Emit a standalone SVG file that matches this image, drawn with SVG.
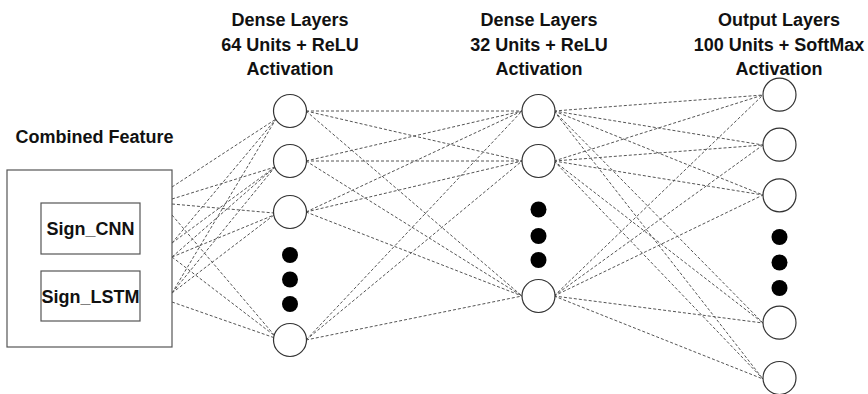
<svg xmlns="http://www.w3.org/2000/svg" width="868" height="394" viewBox="0 0 868 394">
<style>
.t{font-family:"Liberation Sans",Arial,sans-serif;font-weight:bold;font-size:18px;fill:#111;text-anchor:middle}
.n{fill:#fff;stroke:#333;stroke-width:1.2}
.d{fill:#000}
.box{fill:#fff;stroke:#555;stroke-width:1.2}
.c line{stroke:#555;stroke-width:1;stroke-dasharray:3 2;fill:none}
</style>
<rect width="868" height="394" fill="#fff"/>
<g id="connectors" class="c">
<line x1="172" y1="187" x2="276" y2="119"/>
<line x1="172" y1="199" x2="275" y2="167"/>
<line x1="172" y1="204" x2="274" y2="213"/>
<line x1="172" y1="215" x2="275" y2="336"/>
<line x1="172" y1="243" x2="276" y2="119"/>
<line x1="172" y1="243" x2="275" y2="167"/>
<line x1="172" y1="257" x2="275" y2="167"/>
<line x1="172" y1="257" x2="274" y2="215"/>
<line x1="172" y1="257" x2="275" y2="336"/>
<line x1="172" y1="293" x2="276" y2="119"/>
<line x1="172" y1="293" x2="275" y2="167"/>
<line x1="172" y1="293" x2="274" y2="215"/>
<line x1="172" y1="302" x2="275" y2="338"/>
<line x1="306" y1="111" x2="522" y2="111"/>
<line x1="306" y1="111" x2="522" y2="161"/>
<line x1="306" y1="111" x2="522" y2="296"/>
<line x1="306" y1="161" x2="522" y2="111"/>
<line x1="306" y1="161" x2="522" y2="161"/>
<line x1="306" y1="161" x2="522" y2="296"/>
<line x1="306" y1="212" x2="522" y2="111"/>
<line x1="306" y1="212" x2="522" y2="161"/>
<line x1="306" y1="212" x2="522" y2="296"/>
<line x1="306" y1="340" x2="522" y2="111"/>
<line x1="306" y1="340" x2="522" y2="161"/>
<line x1="306" y1="340" x2="522" y2="296"/>
<line x1="554" y1="111" x2="763" y2="95"/>
<line x1="554" y1="111" x2="763" y2="145"/>
<line x1="554" y1="111" x2="763" y2="195"/>
<line x1="554" y1="111" x2="763" y2="323"/>
<line x1="554" y1="111" x2="763" y2="379"/>
<line x1="554" y1="161" x2="763" y2="95"/>
<line x1="554" y1="161" x2="763" y2="145"/>
<line x1="554" y1="161" x2="763" y2="195"/>
<line x1="554" y1="161" x2="763" y2="323"/>
<line x1="554" y1="161" x2="763" y2="379"/>
<line x1="554" y1="296" x2="763" y2="95"/>
<line x1="554" y1="296" x2="763" y2="145"/>
<line x1="554" y1="296" x2="763" y2="195"/>
<line x1="554" y1="296" x2="763" y2="323"/>
<line x1="554" y1="296" x2="763" y2="379"/>
</g>
<g id="input">
<text class="t" x="94.5" y="142.5">Combined Feature</text>
<rect class="box" x="7" y="170" width="165" height="177"/>
</g>
<g id="sign_cnn">
<rect class="box" x="41" y="203" width="99" height="51"/>
<text class="t" x="90.5" y="235">Sign_CNN</text>
</g>
<g id="sign_lstm">
<rect class="box" x="41" y="271" width="99" height="50"/>
<text class="t" x="90.5" y="302.5">Sign_LSTM</text>
</g>
<g id="header1">
<text class="t" x="290" y="26">Dense Layers</text>
<text class="t" x="290" y="50.5">64 Units + ReLU</text>
<text class="t" x="290" y="75">Activation</text>
</g>
<g id="header2">
<text class="t" x="539" y="26">Dense Layers</text>
<text class="t" x="539" y="50.5">32 Units + ReLU</text>
<text class="t" x="539" y="75">Activation</text>
</g>
<g id="header3">
<text class="t" x="779" y="26">Output Layers</text>
<text class="t" x="779" y="50.5">100 Units + SoftMax</text>
<text class="t" x="779" y="75">Activation</text>
</g>
<g id="layer1">
<circle class="n" cx="290" cy="111" r="16.5"/>
<circle class="n" cx="290" cy="161" r="16.5"/>
<circle class="n" cx="290" cy="212" r="16.5"/>
<circle class="d" cx="290" cy="255" r="8"/>
<circle class="d" cx="290" cy="279.5" r="8"/>
<circle class="d" cx="290" cy="304" r="8"/>
<circle class="n" cx="290" cy="340" r="16.5"/>
</g>
<g id="layer2">
<circle class="n" cx="538.5" cy="111" r="16.5"/>
<circle class="n" cx="538.5" cy="161" r="16.5"/>
<circle class="d" cx="538.5" cy="209.5" r="8"/>
<circle class="d" cx="538.5" cy="236" r="8"/>
<circle class="d" cx="538.5" cy="260" r="8"/>
<circle class="n" cx="538.5" cy="296" r="16.5"/>
</g>
<g id="output">
<circle class="n" cx="779.5" cy="94.7" r="16.5"/>
<circle class="n" cx="779.5" cy="144.7" r="16.5"/>
<circle class="n" cx="779.5" cy="195.3" r="16.5"/>
<circle class="d" cx="779.5" cy="237" r="8"/>
<circle class="d" cx="779.5" cy="262.5" r="8"/>
<circle class="d" cx="779.5" cy="288" r="8"/>
<circle class="n" cx="779.5" cy="322.7" r="16.5"/>
<circle class="n" cx="779.5" cy="378" r="16.5"/>
</g>
</svg>
